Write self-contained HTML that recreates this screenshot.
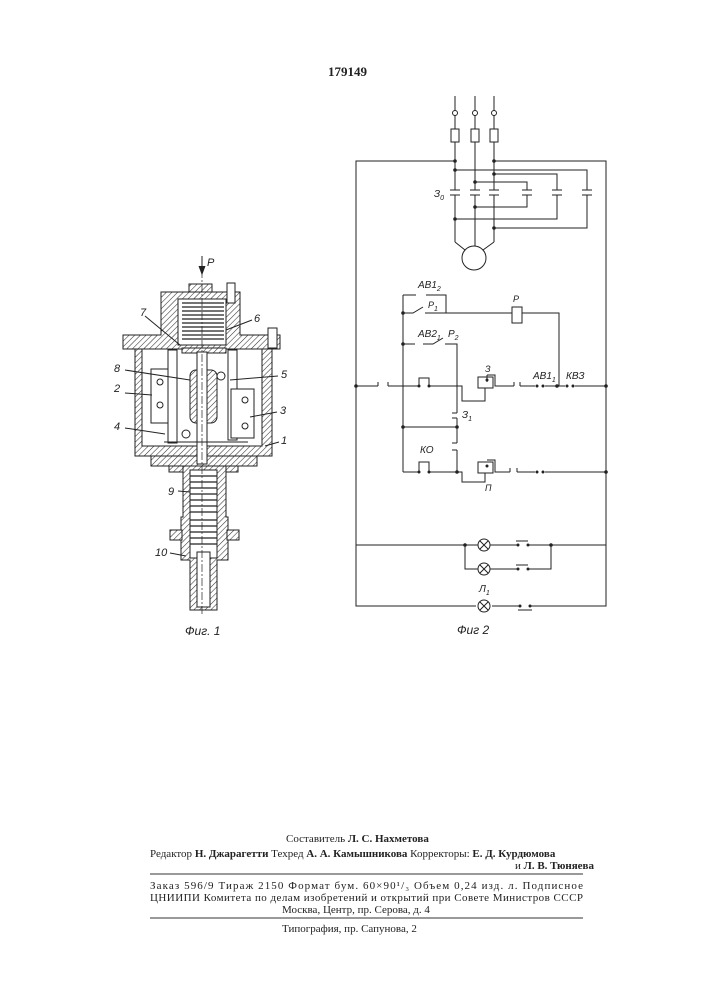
<!DOCTYPE html>
<html><head><meta charset="utf-8"><style>
body{margin:0;background:#fff}
svg{display:block}
text{font-family:"Liberation Serif",serif;fill:#222}
.it{font-style:italic;font-family:"Liberation Sans",sans-serif}
</style></head><body>
<svg width="707" height="1000" viewBox="0 0 707 1000" xmlns="http://www.w3.org/2000/svg">
<defs>
<pattern id="h" width="4" height="4" patternUnits="userSpaceOnUse" patternTransform="rotate(45)">
<rect width="4" height="4" fill="#fff"/><line x1="0" y1="0" x2="0" y2="4" stroke="#333" stroke-width="1.1"/>
</pattern>
</defs>
<text x="328" y="76" font-size="13" font-weight="bold">179149</text>

<!-- ===== Fig 1 ===== -->
<g stroke="#222" stroke-width="1" fill="none">
<line x1="202" y1="256" x2="202" y2="272"/>
<path d="M199 266 L202 274 L205 266" fill="#222"/>
<rect x="189" y="284" width="23" height="9" fill="url(#h)"/>
<path d="M161 292 H240 V335 H280 V349 H123 V335 H161 Z" fill="url(#h)"/>
<rect x="178" y="299" width="48" height="46" fill="#fff"/>
<g stroke-width="1.2">
<line x1="182" y1="303" x2="224" y2="303"/><line x1="182" y1="307" x2="224" y2="307"/>
<line x1="182" y1="311" x2="224" y2="311"/><line x1="182" y1="315" x2="224" y2="315"/>
<line x1="182" y1="319" x2="224" y2="319"/><line x1="182" y1="323" x2="224" y2="323"/>
<line x1="182" y1="327" x2="224" y2="327"/><line x1="182" y1="331" x2="224" y2="331"/>
<line x1="182" y1="335" x2="224" y2="335"/><line x1="182" y1="339" x2="224" y2="339"/>
</g>
<rect x="182" y="348" width="44" height="5" fill="url(#h)"/>
<rect x="227" y="283" width="8" height="20" fill="#fff"/>
<rect x="268" y="328" width="9" height="20" fill="#fff"/>
<path d="M135 349 H142 V446 H262 V349 H272 V456 H135 Z" fill="url(#h)"/>
<path d="M151 456 H257 V466 H151 Z" fill="url(#h)"/>
<rect x="169" y="466" width="69" height="6" fill="url(#h)"/>
<rect x="151" y="369" width="25" height="54" fill="#fff"/>
<circle cx="160" cy="382" r="3"/><circle cx="160" cy="405" r="3"/>
<rect x="168" y="350" width="9" height="93" fill="#fff"/>
<rect x="228" y="350" width="9" height="90" fill="#fff"/>
<rect x="231" y="389" width="23" height="49" fill="#fff"/>
<circle cx="245" cy="400" r="3"/><circle cx="245" cy="426" r="3"/>
<rect x="190" y="370" width="27" height="53" rx="6" fill="url(#h)"/>
<rect x="197" y="352" width="10" height="112" fill="#fff"/>
<circle cx="186" cy="434" r="4"/><circle cx="221" cy="376" r="4"/>
<line x1="164" y1="442" x2="248" y2="442"/>
<path d="M183 466 H226 V517 H228 V560 H217 V610 H190 V560 H181 V517 H183 Z" fill="url(#h)"/>
<rect x="190" y="470" width="27" height="88" fill="#fff"/>
<g stroke-width="1.3">
<line x1="190" y1="476" x2="217" y2="476"/><line x1="190" y1="482" x2="217" y2="482"/>
<line x1="190" y1="488" x2="217" y2="488"/><line x1="190" y1="494" x2="217" y2="494"/>
<line x1="190" y1="500" x2="217" y2="500"/><line x1="190" y1="506" x2="217" y2="506"/>
<line x1="190" y1="512" x2="217" y2="512"/><line x1="190" y1="520" x2="217" y2="520"/>
<line x1="190" y1="526" x2="217" y2="526"/><line x1="190" y1="532" x2="217" y2="532"/>
<line x1="190" y1="538" x2="217" y2="538"/><line x1="190" y1="544" x2="217" y2="544"/>
</g>
<rect x="170" y="530" width="12" height="10" fill="url(#h)"/>
<rect x="227" y="530" width="12" height="10" fill="url(#h)"/>
<rect x="197" y="552" width="13" height="55" fill="#fff"/>
<line x1="202" y1="256" x2="202" y2="615" stroke-dasharray="8 2 2 2" stroke-width="0.7"/>
<line x1="145" y1="316" x2="180" y2="345"/><line x1="252" y1="320" x2="226" y2="330"/>
<line x1="125" y1="370" x2="190" y2="380"/><line x1="125" y1="393" x2="152" y2="395"/>
<line x1="125" y1="428" x2="165" y2="434"/><line x1="278" y1="376" x2="230" y2="380"/>
<line x1="277" y1="412" x2="250" y2="417"/><line x1="279" y1="442" x2="265" y2="446"/>
<line x1="178" y1="491" x2="190" y2="492"/><line x1="170" y1="553" x2="186" y2="556"/>
</g>
<g font-size="11">
<text x="207" y="266" class="it">P</text>
<text x="140" y="316" class="it">7</text><text x="254" y="322" class="it">6</text>
<text x="114" y="372" class="it">8</text><text x="114" y="392" class="it">2</text>
<text x="114" y="430" class="it">4</text><text x="281" y="378" class="it">5</text>
<text x="280" y="414" class="it">3</text><text x="281" y="444" class="it">1</text>
<text x="168" y="495" class="it">9</text><text x="155" y="556" class="it">10</text>
<text x="185" y="635" class="it" font-size="12">Фиг. 1</text>
</g>

<!-- ===== Fig 2 ===== -->
<g stroke="#222" stroke-width="1" fill="none">
<line x1="455" y1="96" x2="455" y2="242"/><line x1="475" y1="96" x2="475" y2="246"/><line x1="494" y1="96" x2="494" y2="242"/>
<circle cx="455" cy="113" r="2.5" fill="#fff"/><circle cx="475" cy="113" r="2.5" fill="#fff"/><circle cx="494" cy="113" r="2.5" fill="#fff"/>
<rect x="451" y="129" width="8" height="13" fill="#fff"/><rect x="471" y="129" width="8" height="13" fill="#fff"/><rect x="490" y="129" width="8" height="13" fill="#fff"/>
<path d="M455 242 L465 250 M494 242 L483 250"/>
<circle cx="474" cy="258" r="12" fill="#fff"/>
<path d="M455 161 H356 V606 H476 M492 606 H520 M530 606 H606 V161 H494"/>
<path d="M455 170 H587 V228 H494"/><path d="M494 174 H557 V219 H455"/>
<path d="M475 182 H527 V207 H475"/>
<g fill="#fff" stroke="#fff"><rect x="452" y="190" width="46" height="5"/><rect x="523" y="190" width="66" height="5"/></g>
<path d="M450 190 H460 M450 195 H460 M470 190 H480 M470 195 H480 M489 190 H499 M489 195 H499 M522 190 H532 M522 195 H532 M552 190 H562 M552 195 H562 M582 190 H592 M582 195 H592"/>
<!-- control -->
<path d="M356 386 H378 M388 386 H419 M429 386 H462 V401 H485 V388 M487 375 H495 V386 H514 M520 386 H535 M545 386 H565 M575 386 H606"/>
<rect x="478" y="377" width="15" height="11" fill="#fff"/>
<path d="M487 375 V382"/>
<path d="M378 386 V382 M388 386 V382 M419 386 V378 H429 V386"/>
<path d="M403 295 V472 M403 295 H416 M426 295 H446 V313 M403 313 H413 L423 307 M425 313 H559 V386"/>
<rect x="512" y="307" width="10" height="16" fill="#fff"/>
<path d="M403 344 H415 M423 344 H433 L443 338 M445 344 H457 V413 M457 418 V443 M457 450 V472"/>
<path d="M457 413 H452 M457 418 H452 M457 443 H452 M457 450 H452"/>
<path d="M403 427 H457"/>
<path d="M403 472 H419 M429 472 H462 V482 H485 V473 M487 460 H495 V472 H510 M517 472 H535 M545 472 H606"/>
<path d="M419 472 V462 H429 V472"/>
<rect x="478" y="462" width="15" height="11" fill="#fff"/>
<path d="M510 472 V468 M517 472 V468 M514 386 V382 M520 386 V382"/>
<!-- lamps -->
<path d="M356 545 H478 M490 545 H518 M528 545 H606 M465 545 V569 H478 M490 569 H518 M528 569 H551 V545"/>
<circle cx="484" cy="545" r="6" fill="#fff"/><circle cx="484" cy="569" r="6" fill="#fff"/><circle cx="484" cy="606" r="6" fill="#fff"/>
<path d="M480 541 L488 549 M488 541 L480 549 M480 565 L488 573 M488 565 L480 573 M480 602 L488 610 M488 602 L480 610"/>
<path d="M516 541 H528 M516 565 H528 M518 610 H532"/>
</g>
<g fill="#222">
<circle cx="455" cy="161" r="1.8"/><circle cx="494" cy="161" r="1.8"/><circle cx="455" cy="170" r="1.8"/><circle cx="494" cy="174" r="1.8"/>
<circle cx="475" cy="182" r="1.8"/><circle cx="475" cy="207" r="1.8"/><circle cx="455" cy="219" r="1.8"/><circle cx="494" cy="228" r="1.8"/>
<circle cx="356" cy="386" r="1.8"/><circle cx="606" cy="386" r="1.8"/><circle cx="403" cy="313" r="1.8"/><circle cx="403" cy="344" r="1.8"/><circle cx="403" cy="427" r="1.8"/><circle cx="457" cy="427" r="1.8"/>
<circle cx="457" cy="472" r="1.8"/><circle cx="606" cy="472" r="1.8"/><circle cx="557" cy="386" r="1.8"/><circle cx="465" cy="545" r="1.8"/><circle cx="551" cy="545" r="1.8"/>
<circle cx="419" cy="386" r="1.5"/><circle cx="429" cy="386" r="1.5"/><circle cx="419" cy="472" r="1.5"/><circle cx="429" cy="472" r="1.5"/>
<circle cx="537" cy="386" r="1.5"/><circle cx="543" cy="386" r="1.5"/><circle cx="567" cy="386" r="1.5"/><circle cx="573" cy="386" r="1.5"/>
<circle cx="537" cy="472" r="1.5"/><circle cx="543" cy="472" r="1.5"/><circle cx="518" cy="545" r="1.5"/><circle cx="528" cy="545" r="1.5"/><circle cx="518" cy="569" r="1.5"/><circle cx="528" cy="569" r="1.5"/><circle cx="520" cy="606" r="1.5"/><circle cx="530" cy="606" r="1.5"/>
<circle cx="487" cy="380" r="1.5"/><circle cx="487" cy="466" r="1.5"/>
</g>
<g font-size="10">
<text x="434" y="197" class="it">З<tspan font-size="7" dy="3">0</tspan></text>
<text x="418" y="288" class="it">АВ1<tspan font-size="7" dy="3">2</tspan></text>
<text x="428" y="308" class="it" font-size="9">P<tspan font-size="7" dy="3">1</tspan></text>
<text x="513" y="302" class="it" font-size="9">P</text>
<text x="418" y="337" class="it">АВ2<tspan font-size="7" dy="3">1</tspan></text>
<text x="448" y="337" class="it">P<tspan font-size="7" dy="3">2</tspan></text>
<text x="485" y="372" class="it" font-size="9">З</text>
<text x="533" y="379" class="it">АВ1<tspan font-size="7" dy="3">1</tspan></text>
<text x="566" y="379" class="it">КВЗ</text>
<text x="462" y="418" class="it">З<tspan font-size="7" dy="3">1</tspan></text>
<text x="420" y="453" class="it">КО</text>
<text x="485" y="491" class="it" font-size="9">П</text>
<text x="479" y="592" class="it">Л<tspan font-size="7" dy="3">1</tspan></text>
<text x="457" y="634" class="it" font-size="12">Фиг 2</text>
</g>

<g font-size="11">
<text x="286" y="842">Составитель <tspan font-weight="bold">Л. С. Нахметова</tspan></text>
<text x="150" y="857">Редактор <tspan font-weight="bold">Н. Джарагетти</tspan> Техред <tspan font-weight="bold">А. А. Камышникова</tspan> Корректоры: <tspan font-weight="bold">Е. Д. Курдюмова</tspan></text>
<text x="515" y="869">и <tspan font-weight="bold">Л. В. Тюняева</tspan></text>
<text x="150" y="889" textLength="433">Заказ 596/9   Тираж 2150   Формат бум. 60×90¹/₃   Объем 0,24 изд. л.   Подписное</text>
<text x="150" y="901" textLength="433">ЦНИИПИ Комитета по делам изобретений и открытий при Совете Министров СССР</text>
<text x="282" y="913">Москва, Центр, пр. Серова, д. 4</text>
<text x="282" y="932">Типография, пр. Сапунова, 2</text>
</g>
<line x1="150" y1="874" x2="583" y2="874" stroke="#333" stroke-width="1"/>
<line x1="150" y1="918" x2="583" y2="918" stroke="#333" stroke-width="1"/>
</svg>
</body></html>
